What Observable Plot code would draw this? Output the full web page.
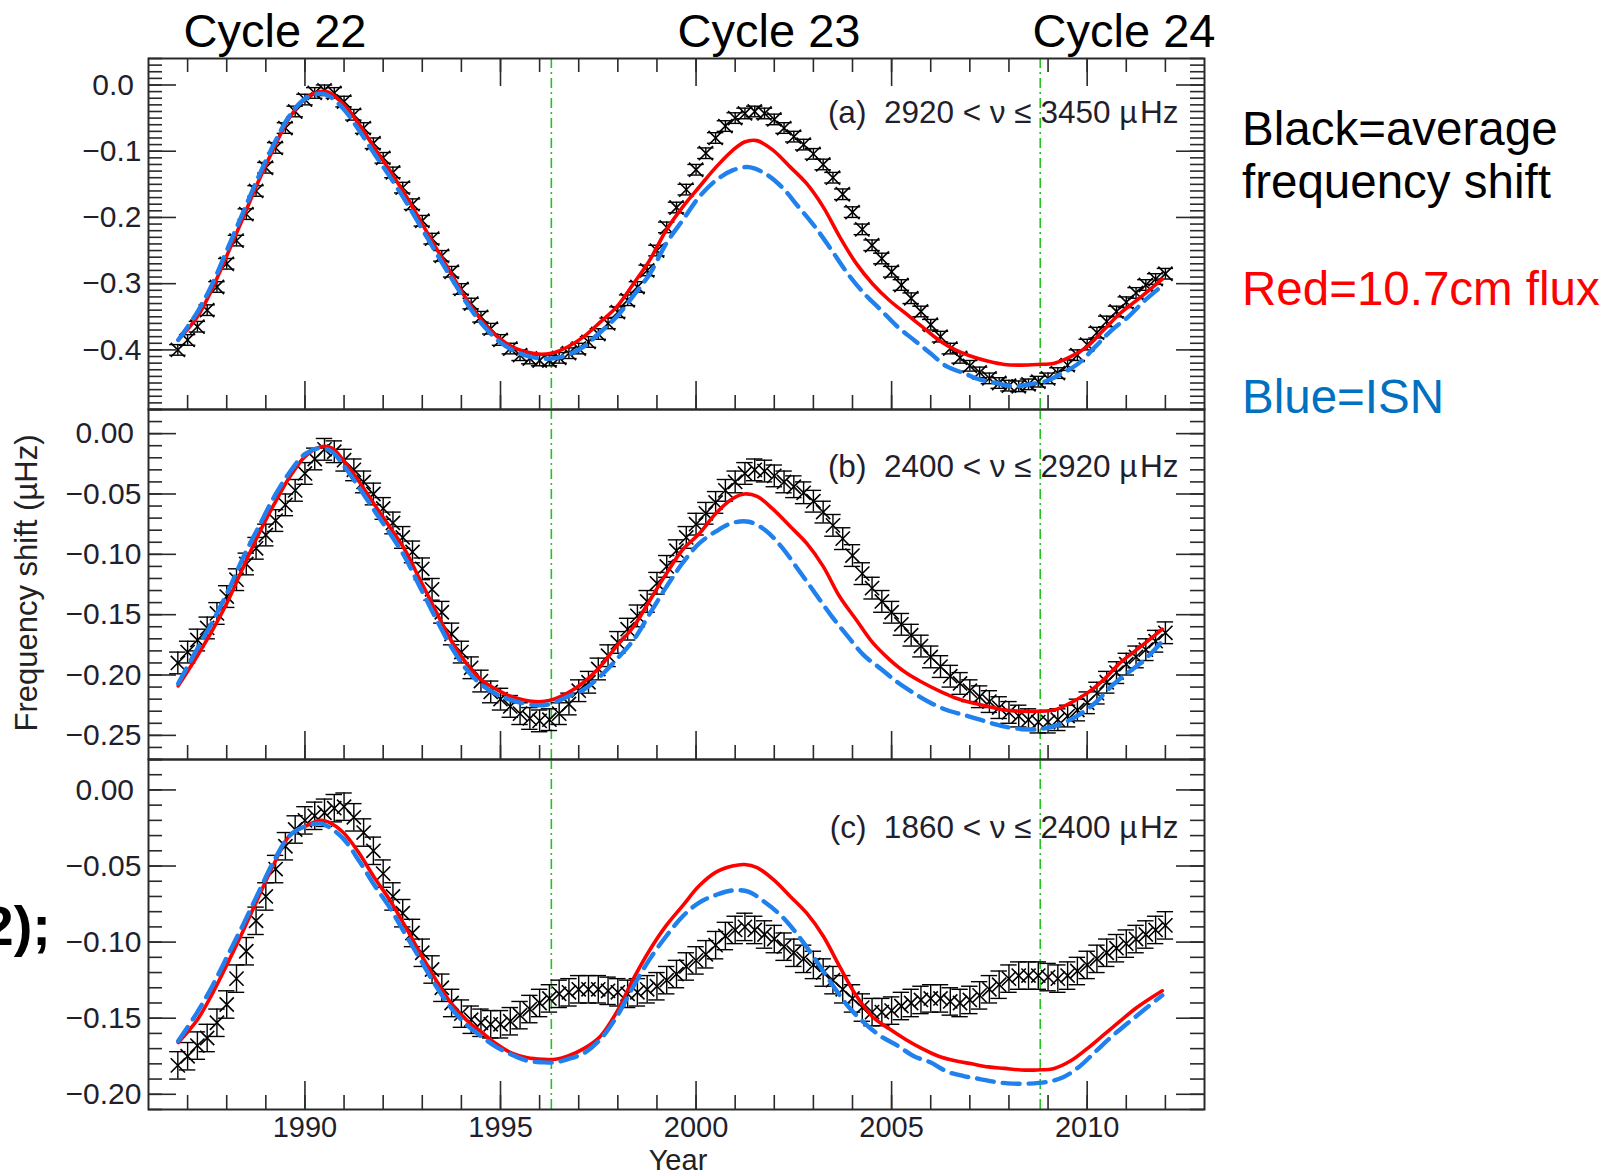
<!DOCTYPE html>
<html><head><meta charset="utf-8">
<script src="https://cdn.jsdelivr.net/npm/d3@7"></script>
<script src="https://cdn.jsdelivr.net/npm/@observablehq/plot@0.6"></script>
<style>
html,body{margin:0;padding:0;background:#fff;}
#page{position:relative;width:1616px;height:1176px;overflow:hidden;font-family:"Liberation Sans",Arial,sans-serif;}
#page > svg{position:absolute;left:0;}
#overlay{position:absolute;left:0;top:0;pointer-events:none;}
</style></head>
<body><div id="page">
<svg id="overlay" width="1616" height="1176" font-family="Liberation Sans, Arial, sans-serif">
  <text x="275" y="47" font-size="47" text-anchor="middle" fill="#000">Cycle 22</text>
  <text x="769" y="47" font-size="47" text-anchor="middle" fill="#000">Cycle 23</text>
  <text x="1124" y="47" font-size="47" text-anchor="middle" fill="#000">Cycle 24</text>
  <text x="1242" y="145" font-size="47.5" fill="#000">Black=average</text>
  <text x="1242" y="198" font-size="47.5" fill="#000">frequency shift</text>
  <text x="1242" y="305" font-size="47.5" fill="#ff0000">Red=10.7cm flux</text>
  <text x="1242" y="413" font-size="47.5" fill="#0070c0">Blue=ISN</text>
  <text transform="translate(37,583) rotate(-90)" font-size="31" text-anchor="middle" fill="#222">Frequency shift (µHz)</text>
  <text x="678" y="1169.5" font-size="29" text-anchor="middle" fill="#222">Year</text>
  <text x="51" y="945" font-size="56" font-weight="bold" text-anchor="end" fill="#000">2);</text>
</svg>
</div>
<script>
// ---------- data ----------
const quarterYears = [
  1986.75,
  1987.00,1987.25,1987.50,1987.75, 1988.00,1988.25,1988.50,1988.75,
  1989.00,1989.25,1989.50,1989.75, 1990.00,1990.25,1990.50,1990.75,
  1991.00,1991.25,1991.50,1991.75, 1992.00,1992.25,1992.50,1992.75,
  1993.00,1993.25,1993.50,1993.75, 1994.00,1994.25,1994.50,1994.75,
  1995.00,1995.25,1995.50,1995.75, 1996.00,1996.25,1996.50,1996.75,
  1997.00,1997.25,1997.50,1997.75, 1998.00,1998.25,1998.50,1998.75,
  1999.00,1999.25,1999.50,1999.75, 2000.00,2000.25,2000.50,2000.75,
  2001.00,2001.25,2001.50,2001.75, 2002.00,2002.25,2002.50,2002.75,
  2003.00,2003.25,2003.50,2003.75, 2004.00,2004.25,2004.50,2004.75,
  2005.00,2005.25,2005.50,2005.75, 2006.00,2006.25,2006.50,2006.75,
  2007.00,2007.25,2007.50,2007.75, 2008.00,2008.25,2008.50,2008.75,
  2009.00,2009.25,2009.50,2009.75, 2010.00,2010.25,2010.50,2010.75,
  2011.00,2011.25,2011.50,2011.75, 2012.00
];

// (a) 2920-3450 uHz : average frequency shift
const shiftA = [
  -0.400,
  -0.385,-0.365,-0.340,-0.305, -0.270,-0.235,-0.195,-0.160,
  -0.125,-0.095,-0.065,-0.040, -0.022,-0.012,-0.008,-0.012,
  -0.025,-0.045,-0.065,-0.088, -0.110,-0.132,-0.155,-0.180,
  -0.205,-0.232,-0.258,-0.282, -0.308,-0.330,-0.350,-0.368,
  -0.385,-0.398,-0.408,-0.413, -0.416,-0.416,-0.412,-0.405,
  -0.398,-0.388,-0.376,-0.360, -0.343,-0.325,-0.305,-0.280,
  -0.250,-0.215,-0.185,-0.158, -0.128,-0.103,-0.080,-0.062,
  -0.050,-0.043,-0.040,-0.043, -0.052,-0.065,-0.078,-0.090,
  -0.104,-0.120,-0.140,-0.165, -0.192,-0.218,-0.242,-0.262,
  -0.282,-0.302,-0.322,-0.342, -0.362,-0.380,-0.398,-0.412,
  -0.424,-0.434,-0.443,-0.450, -0.454,-0.455,-0.452,-0.448,
  -0.443,-0.435,-0.423,-0.408, -0.392,-0.374,-0.357,-0.342,
  -0.328,-0.314,-0.302,-0.293, -0.285
];
// (b) 2400-2920 uHz
const shiftB = [
  -0.190,
  -0.181,-0.171,-0.161,-0.149, -0.135,-0.121,-0.108,-0.095,
  -0.084,-0.072,-0.059,-0.047, -0.033,-0.021,-0.013,-0.015,
  -0.022,-0.030,-0.040,-0.050, -0.062,-0.074,-0.086,-0.098,
  -0.112,-0.129,-0.148,-0.166, -0.181,-0.194,-0.205,-0.214,
  -0.220,-0.226,-0.232,-0.236, -0.238,-0.237,-0.232,-0.224,
  -0.213,-0.206,-0.195,-0.184, -0.173,-0.162,-0.151,-0.139,
  -0.124,-0.110,-0.097,-0.086, -0.075,-0.066,-0.057,-0.047,
  -0.040,-0.033,-0.030,-0.031, -0.035,-0.040,-0.044,-0.049,
  -0.056,-0.065,-0.076,-0.087, -0.101,-0.116,-0.128,-0.139,
  -0.148,-0.158,-0.167,-0.176, -0.185,-0.193,-0.201,-0.207,
  -0.213,-0.218,-0.222,-0.227, -0.231,-0.234,-0.237,-0.239,
  -0.239,-0.237,-0.234,-0.229, -0.223,-0.215,-0.206,-0.198,
  -0.191,-0.185,-0.179,-0.172, -0.165
];
// (c) 1860-2400 uHz
const shiftC = [
  -0.181,
  -0.175,-0.168,-0.163,-0.153, -0.141,-0.124,-0.106,-0.086,
  -0.070,-0.052,-0.037,-0.026, -0.020,-0.017,-0.015,-0.012,
  -0.011,-0.018,-0.028,-0.040, -0.055,-0.070,-0.081,-0.094,
  -0.107,-0.118,-0.130,-0.140, -0.147,-0.151,-0.153,-0.154,
  -0.154,-0.152,-0.148,-0.144, -0.140,-0.137,-0.134,-0.133,
  -0.131,-0.131,-0.131,-0.132, -0.133,-0.134,-0.133,-0.131,
  -0.129,-0.125,-0.121,-0.116, -0.112,-0.108,-0.102,-0.096,
  -0.092,-0.090,-0.092,-0.095, -0.098,-0.103,-0.107,-0.111,
  -0.115,-0.120,-0.125,-0.131, -0.137,-0.143,-0.146,-0.146,
  -0.145,-0.142,-0.140,-0.138, -0.137,-0.137,-0.139,-0.140,
  -0.138,-0.135,-0.131,-0.128, -0.124,-0.122,-0.122,-0.122,
  -0.123,-0.124,-0.122,-0.119, -0.115,-0.111,-0.107,-0.104,
  -0.101,-0.098,-0.095,-0.092, -0.089
];
const errA = 0.008, errB = 0.009, errC = 0.009;

// 10.7 cm flux model [year, shift]
const fluxA = [[1986.76,-0.385],[1987.25,-0.350],[1987.65,-0.305],[1988.0,-0.258],[1988.4,-0.203],[1988.8,-0.147],[1989.2,-0.096],[1989.6,-0.050],[1990.0,-0.021],[1990.4,-0.010],[1990.6,-0.011],[1991.0,-0.030],[1991.4,-0.061],[1991.8,-0.097],[1992.2,-0.132],[1992.6,-0.169],[1993.0,-0.210],[1993.4,-0.251],[1993.8,-0.291],[1994.2,-0.330],[1994.6,-0.361],[1995.0,-0.384],[1995.4,-0.398],[1995.9,-0.406],[1996.3,-0.405],[1996.7,-0.396],[1997.13,-0.380],[1997.55,-0.358],[1997.97,-0.335],[1998.4,-0.300],[1998.82,-0.264],[1999.24,-0.219],[1999.66,-0.184],[2000.08,-0.154],[2000.51,-0.124],[2000.93,-0.099],[2001.24,-0.086],[2001.56,-0.084],[2001.98,-0.099],[2002.41,-0.124],[2002.83,-0.149],[2003.25,-0.184],[2003.67,-0.229],[2004.09,-0.269],[2004.51,-0.300],[2004.94,-0.325],[2005.36,-0.345],[2005.78,-0.365],[2006.20,-0.385],[2006.63,-0.400],[2007.05,-0.410],[2007.47,-0.417],[2007.89,-0.422],[2008.31,-0.423],[2008.73,-0.422],[2009.16,-0.420],[2009.58,-0.410],[2010.0,-0.395],[2010.42,-0.370],[2010.84,-0.345],[2011.27,-0.325],[2011.92,-0.293]];
const fluxB = [[1986.76,-0.209],[1987.25,-0.184],[1987.65,-0.162],[1988.04,-0.138],[1988.43,-0.110],[1988.82,-0.083],[1989.22,-0.058],[1989.61,-0.036],[1990.0,-0.019],[1990.39,-0.011],[1990.69,-0.012],[1990.98,-0.022],[1991.37,-0.039],[1991.76,-0.058],[1992.16,-0.077],[1992.55,-0.096],[1992.94,-0.121],[1993.33,-0.146],[1993.73,-0.171],[1994.12,-0.190],[1994.51,-0.204],[1994.9,-0.212],[1995.29,-0.218],[1995.88,-0.222],[1996.27,-0.221],[1996.71,-0.215],[1997.13,-0.206],[1997.55,-0.193],[1997.97,-0.176],[1998.40,-0.160],[1998.82,-0.138],[1999.24,-0.116],[1999.66,-0.096],[2000.08,-0.083],[2000.51,-0.066],[2000.93,-0.054],[2001.24,-0.050],[2001.56,-0.052],[2001.98,-0.063],[2002.41,-0.077],[2002.83,-0.091],[2003.25,-0.110],[2003.67,-0.135],[2004.09,-0.154],[2004.51,-0.173],[2004.94,-0.187],[2005.36,-0.198],[2005.78,-0.206],[2006.20,-0.213],[2006.63,-0.219],[2007.05,-0.223],[2007.47,-0.226],[2007.89,-0.229],[2008.31,-0.230],[2008.73,-0.230],[2009.16,-0.229],[2009.58,-0.223],[2010.0,-0.215],[2010.42,-0.204],[2010.84,-0.190],[2011.27,-0.179],[2011.92,-0.162]];
const fluxC = [[1986.76,-0.166],[1987.25,-0.151],[1987.65,-0.133],[1988.04,-0.113],[1988.43,-0.092],[1988.82,-0.070],[1989.22,-0.048],[1989.61,-0.030],[1990.0,-0.024],[1990.39,-0.020],[1990.59,-0.021],[1990.98,-0.028],[1991.37,-0.041],[1991.76,-0.057],[1992.16,-0.072],[1992.55,-0.089],[1992.94,-0.107],[1993.33,-0.124],[1993.73,-0.140],[1994.12,-0.151],[1994.51,-0.159],[1994.90,-0.167],[1995.29,-0.173],[1995.69,-0.176],[1996.08,-0.177],[1996.4,-0.177],[1996.71,-0.175],[1997.13,-0.170],[1997.55,-0.162],[1997.97,-0.146],[1998.40,-0.124],[1998.82,-0.105],[1999.24,-0.089],[1999.66,-0.076],[2000.08,-0.063],[2000.51,-0.054],[2000.93,-0.050],[2001.24,-0.049],[2001.56,-0.051],[2001.98,-0.059],[2002.41,-0.070],[2002.83,-0.081],[2003.25,-0.096],[2003.67,-0.116],[2004.09,-0.135],[2004.51,-0.149],[2004.94,-0.157],[2005.36,-0.164],[2005.78,-0.170],[2006.20,-0.175],[2006.63,-0.178],[2007.05,-0.180],[2007.47,-0.182],[2007.89,-0.183],[2008.31,-0.184],[2008.73,-0.184],[2009.16,-0.183],[2009.58,-0.178],[2010.0,-0.170],[2010.42,-0.161],[2010.84,-0.152],[2011.27,-0.143],[2011.92,-0.132]];

// International sunspot number model [year, shift]
const isnA = [[1986.76,-0.385],[1987.25,-0.343],[1987.65,-0.298],[1988.0,-0.250],[1988.4,-0.195],[1988.8,-0.140],[1989.2,-0.090],[1989.6,-0.047],[1990.0,-0.021],[1990.4,-0.013],[1990.6,-0.016],[1991.0,-0.037],[1991.4,-0.070],[1991.8,-0.106],[1992.2,-0.141],[1992.6,-0.178],[1993.0,-0.218],[1993.4,-0.258],[1993.8,-0.297],[1994.2,-0.335],[1994.6,-0.366],[1995.0,-0.389],[1995.4,-0.403],[1995.9,-0.412],[1996.3,-0.413],[1996.7,-0.408],[1997.13,-0.395],[1997.5,-0.376],[1997.97,-0.350],[1998.4,-0.318],[1998.82,-0.285],[1999.24,-0.239],[1999.66,-0.204],[2000.08,-0.169],[2000.51,-0.144],[2000.93,-0.129],[2001.35,-0.124],[2001.77,-0.134],[2002.19,-0.154],[2002.62,-0.184],[2003.04,-0.214],[2003.46,-0.249],[2003.88,-0.285],[2004.30,-0.315],[2004.73,-0.340],[2005.15,-0.365],[2005.57,-0.385],[2005.99,-0.405],[2006.41,-0.425],[2006.84,-0.435],[2007.26,-0.445],[2007.68,-0.450],[2008.10,-0.455],[2008.52,-0.452],[2008.95,-0.447],[2009.37,-0.435],[2009.79,-0.420],[2010.21,-0.395],[2010.63,-0.370],[2011.05,-0.350],[2011.48,-0.325],[2011.92,-0.303]];
const isnB = [[1986.76,-0.207],[1987.25,-0.178],[1987.65,-0.155],[1988.04,-0.130],[1988.43,-0.102],[1988.82,-0.077],[1989.22,-0.052],[1989.61,-0.032],[1990.0,-0.017],[1990.39,-0.012],[1990.69,-0.015],[1990.98,-0.026],[1991.37,-0.044],[1991.76,-0.063],[1992.16,-0.082],[1992.55,-0.102],[1992.94,-0.127],[1993.33,-0.152],[1993.73,-0.176],[1994.12,-0.195],[1994.51,-0.208],[1994.9,-0.216],[1995.29,-0.221],[1995.88,-0.225],[1996.27,-0.224],[1996.71,-0.218],[1997.13,-0.212],[1997.55,-0.201],[1997.97,-0.187],[1998.40,-0.171],[1998.82,-0.149],[1999.24,-0.127],[1999.66,-0.107],[2000.08,-0.091],[2000.51,-0.081],[2000.93,-0.074],[2001.35,-0.073],[2001.77,-0.080],[2002.19,-0.094],[2002.62,-0.113],[2003.04,-0.132],[2003.46,-0.151],[2003.88,-0.168],[2004.30,-0.184],[2004.73,-0.195],[2005.15,-0.206],[2005.57,-0.215],[2005.99,-0.223],[2006.41,-0.229],[2006.84,-0.233],[2007.26,-0.237],[2007.68,-0.241],[2008.10,-0.244],[2008.52,-0.245],[2008.95,-0.244],[2009.37,-0.240],[2009.79,-0.233],[2010.21,-0.223],[2010.63,-0.209],[2011.05,-0.198],[2011.48,-0.187],[2011.92,-0.172]];
const isnC = [[1986.76,-0.165],[1987.25,-0.146],[1987.65,-0.128],[1988.04,-0.108],[1988.43,-0.088],[1988.82,-0.067],[1989.22,-0.046],[1989.61,-0.030],[1990.0,-0.024],[1990.39,-0.022],[1990.59,-0.024],[1990.98,-0.032],[1991.37,-0.046],[1991.76,-0.062],[1992.16,-0.077],[1992.55,-0.094],[1992.94,-0.111],[1993.33,-0.128],[1993.73,-0.143],[1994.12,-0.154],[1994.51,-0.162],[1994.90,-0.169],[1995.29,-0.174],[1995.69,-0.178],[1996.08,-0.179],[1996.4,-0.179],[1996.71,-0.177],[1997.13,-0.173],[1997.55,-0.164],[1997.97,-0.149],[1998.40,-0.129],[1998.82,-0.111],[1999.24,-0.096],[1999.66,-0.083],[2000.08,-0.074],[2000.51,-0.069],[2000.93,-0.066],[2001.35,-0.067],[2001.77,-0.074],[2002.19,-0.083],[2002.62,-0.096],[2003.04,-0.111],[2003.46,-0.127],[2003.88,-0.142],[2004.30,-0.153],[2004.73,-0.162],[2005.15,-0.168],[2005.57,-0.175],[2005.99,-0.179],[2006.41,-0.185],[2006.84,-0.188],[2007.26,-0.190],[2007.68,-0.192],[2008.10,-0.193],[2008.52,-0.193],[2008.95,-0.192],[2009.37,-0.189],[2009.79,-0.182],[2010.21,-0.172],[2010.63,-0.162],[2011.05,-0.153],[2011.48,-0.144],[2011.92,-0.135]];

const cycleMinima = [1996.3, 2008.8];
const yearTicks = [1990, 1995, 2000, 2005, 2010];
const yearMinor = [1987,1988,1989,1990,1991,1992,1993,1994,1995,1996,1997,1998,1999,2000,2001,2002,2003,2004,2005,2006,2007,2008,2009,2010,2011,2012];
const ticksA = [0.0, -0.1, -0.2, -0.3, -0.4];
const ticksB = [0.00, -0.05, -0.10, -0.15, -0.20, -0.25];
const ticksC = [0.00, -0.05, -0.10, -0.15, -0.20];
const labelA = "(a)\u00a0 2920 < ν ≤ 3450 µ\u200aHz";
const labelB = "(b)\u00a0 2400 < ν ≤ 2920 µ\u200aHz";
const labelC = "(c)\u00a0 1860 < ν ≤ 2400 µ\u200aHz";

// ---------- drawing ----------
const W = 1616, ML = 148, MR = 412, innerW = W - ML - MR;
const INK = "#2a2a2a";

function panel({top, innerH, yDomain, yTicks, fmt, shift, err, flux, isn, label, labelDy, bottomAxis, topTicks}) {
  const mt = 4, mb = bottomAxis ? 70 : 4;
  const pts = quarterYears.map((t, i) => ({t, v: shift[i]})).filter(d => d.v !== undefined);
  const yMinor = d3.range(Math.ceil(yDomain[0] * 100 - 1e-6), Math.floor(yDomain[1] * 100 + 1e-6) + 1).map(k => k / 100);
  const f = d3.format(fmt);
  const marks = [
    Plot.ruleX(cycleMinima, {stroke: "#22c322", strokeWidth: 1.6, strokeDasharray: "10,4,2,4"}),
    Plot.ruleX(yearMinor, {insetTop: innerH - 14, stroke: INK, strokeWidth: 1.6}),
    Plot.ruleX(yearTicks, {insetTop: innerH - 28, stroke: INK, strokeWidth: 1.6}),
    Plot.ruleY(yMinor, {insetRight: innerW - 14, stroke: INK, strokeWidth: 1.6}),
    Plot.ruleY(yMinor, {insetLeft: innerW - 14, stroke: INK, strokeWidth: 1.6}),
    Plot.ruleY(yTicks, {insetRight: innerW - 28, stroke: INK, strokeWidth: 1.6}),
    Plot.ruleY(yTicks, {insetLeft: innerW - 28, stroke: INK, strokeWidth: 1.6}),
    Plot.axisY({ticks: yTicks, tickSize: 0, tickPadding: 7, tickFormat: d => d < 0 ? f(d) : f(d) + "\u2005", fontSize: 30, fill: "#1f1f2e", label: null}),
    // observed average shifts with error bars
    Plot.ruleX(pts, {x: "t", y1: d => d.v - err, y2: d => d.v + err, stroke: "#000", strokeWidth: 1.4}),
    Plot.ruleY(pts, {y: d => d.v + err, x1: d => d.t - 0.21, x2: d => d.t + 0.21, stroke: "#000", strokeWidth: 1.4}),
    Plot.ruleY(pts, {y: d => d.v - err, x1: d => d.t - 0.21, x2: d => d.t + 0.21, stroke: "#000", strokeWidth: 1.4}),
    Plot.dot(pts, {x: "t", y: "v", symbol: "times", r: 6.5, stroke: "#000", strokeWidth: 1.6}),
    // models
    Plot.line(flux, {x: d => d[0], y: d => d[1], stroke: "#ff0000", strokeWidth: 3.6, curve: "catmull-rom"}),
    Plot.line(isn, {x: d => d[0], y: d => d[1], stroke: "#1f80ee", strokeWidth: 4.4, strokeDasharray: "17,9", curve: "catmull-rom"}),
    Plot.text([label], {text: d => d, frameAnchor: "top-right", textAnchor: "end", lineAnchor: "middle", dx: -26, dy: labelDy, fontSize: 31.5, fill: "#1f1f2e"}),
    Plot.frame({stroke: INK, strokeWidth: 2})
  ];
  if (topTicks) {
    marks.push(Plot.ruleX(yearMinor, {insetBottom: innerH - 14, stroke: INK, strokeWidth: 1.6}));
    marks.push(Plot.ruleX(yearTicks, {insetBottom: innerH - 28, stroke: INK, strokeWidth: 1.6}));
  }
  if (bottomAxis) {
    marks.push(Plot.axisX({ticks: yearTicks, tickSize: 0, tickPadding: 7, tickFormat: d => String(d), fontSize: 29, fill: "#1f1f2e", label: null}));
  }
  const svg = Plot.plot({
    width: W, height: innerH + mt + mb,
    marginLeft: ML, marginRight: MR, marginTop: mt, marginBottom: mb,
    style: {background: "transparent", fontFamily: "Liberation Sans, Arial, sans-serif", overflow: "visible"},
    x: {domain: [1986, 2013], axis: bottomAxis ? undefined : null},
    y: {domain: yDomain},
    marks
  });
  svg.style.position = "absolute";
  svg.style.left = "0px";
  svg.style.top = (top - mt) + "px";
  document.getElementById("page").insertBefore(svg, document.getElementById("overlay"));
}

panel({top: 58, innerH: 351, yDomain: [-0.49, 0.04], yTicks: ticksA, fmt: ".1f", shift: shiftA, err: errA, flux: fluxA, isn: isnA, label: labelA, labelDy: 54, bottomAxis: false, topTicks: true});
panel({top: 409, innerH: 350, yDomain: [-0.27, 0.02], yTicks: ticksB, fmt: ".2f", shift: shiftB, err: errB, flux: fluxB, isn: isnB, label: labelB, labelDy: 57, bottomAxis: false, topTicks: false});
panel({top: 759, innerH: 350, yDomain: [-0.21, 0.02], yTicks: ticksC, fmt: ".2f", shift: shiftC, err: errC, flux: fluxC, isn: isnC, label: labelC, labelDy: 68, bottomAxis: true, topTicks: false});
</script>
</body></html>
